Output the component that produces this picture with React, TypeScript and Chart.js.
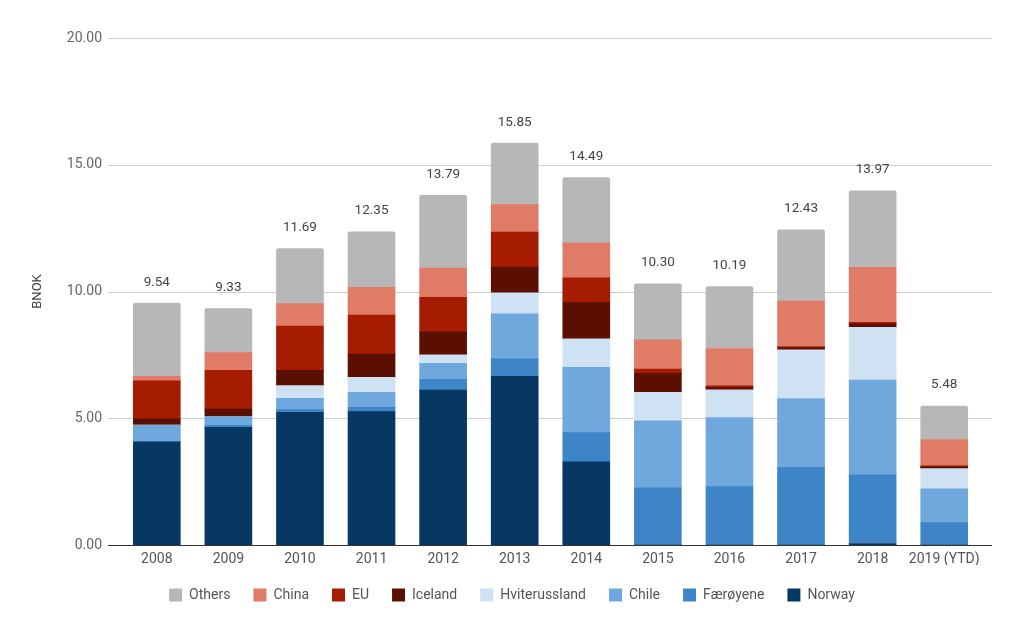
import React, { useEffect, useRef } from "react";
import { Chart, registerables } from "chart.js";

Chart.register(...registerables);

const categories = ["2008", "2009", "2010", "2011", "2012", "2013", "2014", "2015", "2016", "2017", "2018", "2019 (YTD)"];

const norway = [4.07, 4.64, 5.23, 5.26, 6.11, 6.65, 3.28, 0, 0, 0, 0.05, 0];
const faeroyene = [0, 0.08, 0.11, 0.17, 0.43, 0.69, 1.15, 2.26, 2.30, 3.06, 2.72, 0.88];
const chile = [0.66, 0.35, 0.45, 0.59, 0.63, 1.78, 2.58, 2.64, 2.73, 2.72, 3.74, 1.34];
const hviterussland = [0, 0, 0.50, 0.59, 0.33, 0.83, 1.12, 1.12, 1.09, 1.92, 2.08, 0.79];
const iceland = [0.26, 0.29, 0.60, 0.92, 0.91, 1.01, 1.43, 0.75, 0.09, 0.08, 0.13, 0.07];
const eu = [1.49, 1.53, 1.75, 1.54, 1.36, 1.38, 0.98, 0.17, 0.07, 0.05, 0.06, 0.04];
const china = [0.17, 0.70, 0.88, 1.09, 1.15, 1.09, 1.38, 1.15, 1.47, 1.79, 2.17, 1.04];
const others = [2.89, 1.74, 2.17, 2.19, 2.87, 2.42, 2.57, 2.21, 2.44, 2.81, 3.02, 1.32];

const yTicks = [0, 5, 10, 15, 20];
const yTitle = "BNOK";

const seriesNames = ["Norway", "Færøyene", "Chile", "Hviterussland", "Iceland", "EU", "China", "Others"];
const seriesValues = [norway, faeroyene, chile, hviterussland, iceland, eu, china, others];
const seriesColors = ["#073763", "#3d85c6", "#6fa8dc", "#cfe2f3", "#5b0f00", "#a61c00", "#e07b68", "#b7b7b7"];

const FONT = "Roboto";

const overlayPlugin = {
  id: "overlay",
  beforeDatasetsDraw(chart: any) {
    const { ctx, chartArea, scales } = chart;
    const y = scales.y;
    ctx.save();
    ctx.strokeStyle = "#cccccc";
    ctx.lineWidth = 1;
    yTicks.forEach((v) => {
      if (v === 0) return;
      const py = Math.round(y.getPixelForValue(v)) + 0.5;
      ctx.beginPath();
      ctx.moveTo(108, py);
      ctx.lineTo(992, py);
      ctx.stroke();
    });
    // axis title
    ctx.translate(38, (chartArea.top + chartArea.bottom) / 2);
    ctx.rotate(-Math.PI / 2);
    ctx.font = `13px ${FONT}`;
    ctx.fillStyle = "#444444";
    ctx.textAlign = "center";
    ctx.textBaseline = "middle";
    ctx.fillText(yTitle, 0, 0);
    ctx.restore();
  },
  afterDatasetsDraw(chart: any) {
    const { ctx, scales } = chart;
    const x = scales.x;
    const y = scales.y;
    ctx.save();
    ctx.strokeStyle = "#333333";
    ctx.lineWidth = 1;
    const py0 = Math.round(y.getPixelForValue(0)) + 0.5;
    ctx.beginPath();
    ctx.moveTo(108, py0);
    ctx.lineTo(992, py0);
    ctx.stroke();

    ctx.font = `13.5px ${FONT}`;
    ctx.fillStyle = "#444444";
    ctx.textAlign = "center";
    ctx.textBaseline = "middle";
    categories.forEach((_, i) => {
      let total = 0;
      seriesValues.forEach((arr) => (total += arr[i]));
      total = Math.round(total * 100) / 100;
      const px = x.getPixelForValue(i);
      const py = y.getPixelForValue(total) - 21;
      ctx.fillText(total.toFixed(2), px, py);
    });
    ctx.restore();
  },
};

export default function App() {
  const canvasRef = useRef<HTMLCanvasElement | null>(null);

  useEffect(() => {
    const canvas = canvasRef.current;
    if (!canvas) return;
    const datasets = seriesNames.map((name, i) => ({
      label: name,
      data: seriesValues[i],
      backgroundColor: seriesColors[i],
      borderWidth: 0,
      barThickness: 47,
      borderRadius: i === seriesNames.length - 1 ? { topLeft: 2, topRight: 2, bottomLeft: 0, bottomRight: 0 } : 0,
      borderSkipped: false as any,
    }));
    const chart = new Chart(canvas, {
      type: "bar",
      data: { labels: categories, datasets },
      plugins: [overlayPlugin],
      options: {
        responsive: false,
        animation: false,
        layout: { padding: { left: 44, right: 44, top: 38, bottom: 21 } },
        scales: {
          x: {
            stacked: true,
            grid: { display: false, drawTicks: false },
            border: { display: false },
            ticks: {
              color: "#555555",
              font: { family: FONT, size: 14 },
              padding: 6,
              maxRotation: 0,
              minRotation: 0,
              autoSkip: false,
            },
            afterFit: (scale: any) => {
              scale.height = 20;
            },
          },
          y: {
            stacked: true,
            min: 0,
            max: 20,
            grid: { display: false, drawTicks: false },
            border: { display: false },
            ticks: {
              stepSize: 5,
              color: "#666666",
              font: { family: FONT, size: 14 },
              padding: 19,
              callback: (v: any) => Number(v).toFixed(2),
            },
            afterFit: (scale: any) => {
              scale.width = 77;
            },
          },
        },
        plugins: {
          legend: {
            position: "bottom",
            reverse: true,
            labels: {
              boxWidth: 13,
              boxHeight: 13,
              padding: 23,
              color: "#555555",
              font: { family: FONT, size: 14 },
            },
          },
          tooltip: { enabled: false },
        },
      },
    });
    return () => chart.destroy();
  }, []);

  return (
    <div style={{ position: "absolute", left: 0, top: 0, width: 1024, height: 633, background: "#fff" }}>
      <canvas ref={canvasRef} width={1024} height={633} style={{ display: "block" }} />
    </div>
  );
}
